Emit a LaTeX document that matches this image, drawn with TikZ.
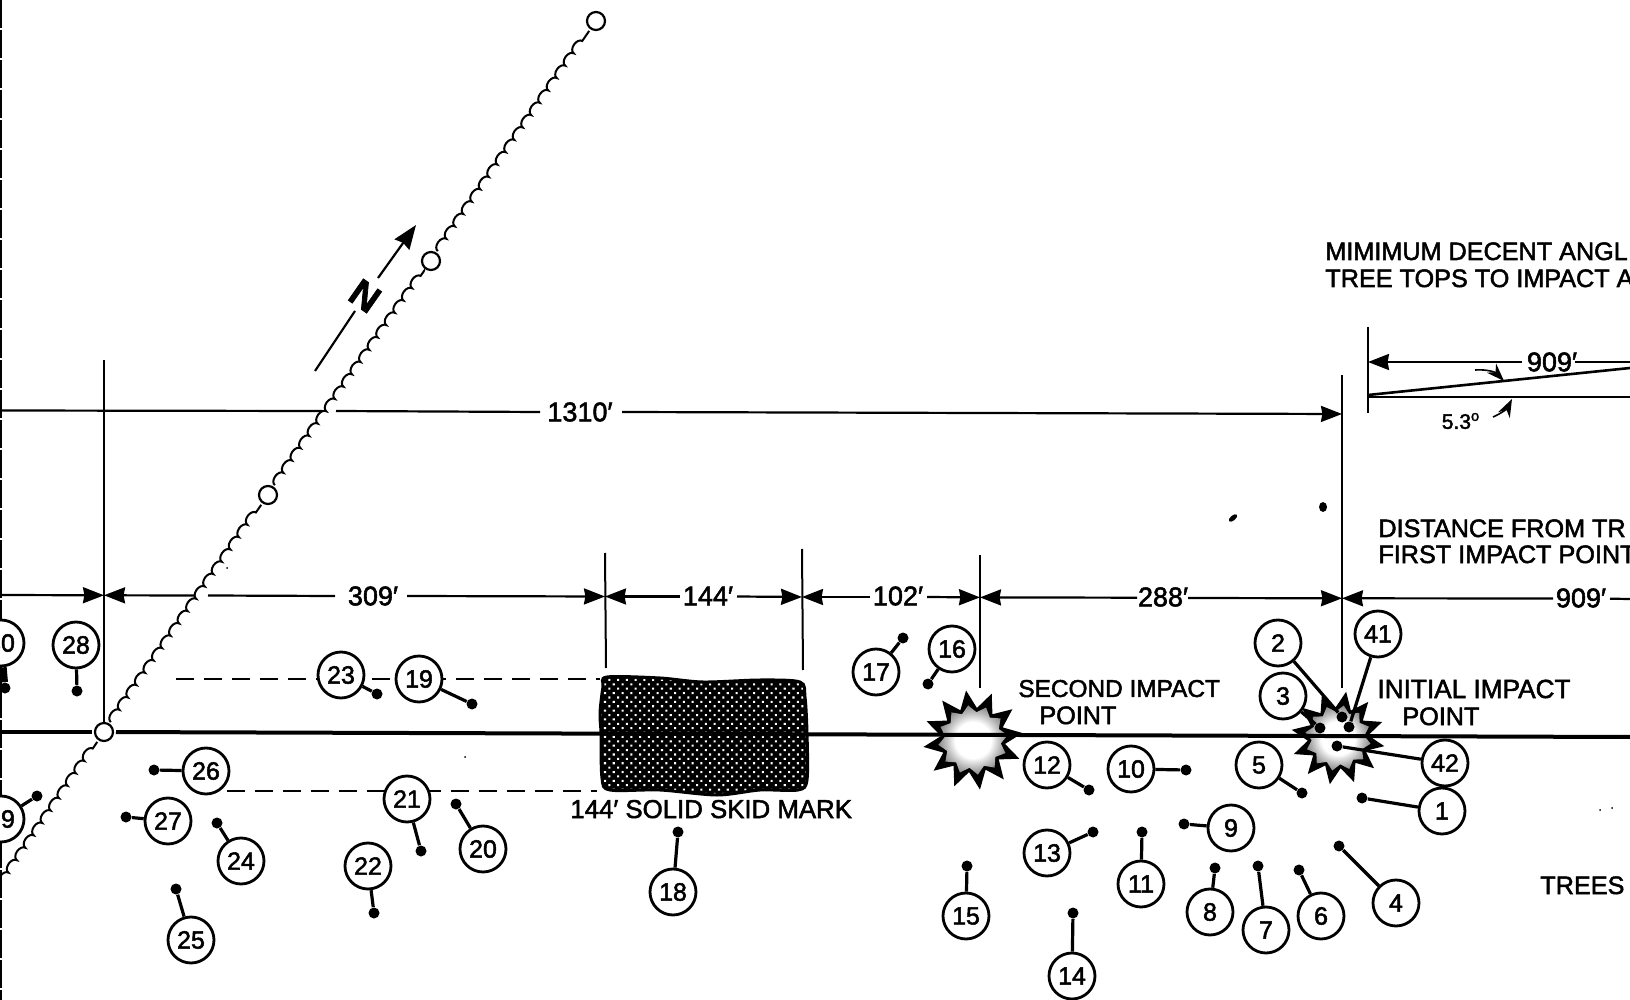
\documentclass[tikz,border=0pt]{standalone}
\usepackage{fontspec}
\setmainfont[FakeBold=2]{Liberation Sans}
\usetikzlibrary{arrows.meta,decorations.pathmorphing,patterns.meta,shapes.geometric}
\pgfdeclareradialshading{burstshade}{\pgfpoint{0bp}{0bp}}{color(0bp)=(white); color(13bp)=(white); color(20bp)=(gray!55); color(25bp)=(gray!90); color(50bp)=(gray!90)}
\tikzset{
  numtag/.style={shape=circle,draw,fill=white,line width=1.4pt,minimum size=23pt,inner sep=0pt,font=\fontsize{12.5}{14}\selectfont},
  numdot/.style={shape=circle,fill=black,inner sep=0pt,minimum size=5.5pt},
  leader/.style={line width=1.6pt},
  dimline/.style={line width=1.1pt},
  dimtip/.style={-{Stealth[length=10.5pt,width=8pt,inset=0.7pt]}},
  extline/.style={line width=1pt},
  dashline/.style={line width=1.2pt,dash pattern=on 9pt off 5pt},
  wavy/.style={line width=1pt,decorate,decoration={bumps,segment length=15pt,amplitude=2.4pt}},
  station/.style={shape=circle,draw,fill=white,line width=1.1pt,minimum size=9pt,inner sep=0pt,outer sep=1.5pt},
  caption/.style={anchor=base west,inner sep=0pt,font=\fontsize{12.6}{15}\selectfont},
  dimtext/.style={inner sep=0pt,font=\fontsize{13.5}{15}\selectfont},
  burstout/.style={shape=star,star points=12,star point ratio=1.55,fill=black,inner sep=0pt},
  burstin/.style={shape=star,star points=12,star point ratio=1.25,shading=burstshade,inner sep=0pt},
  skid/.style={draw=black,line width=1.5pt,preaction={fill=black},
    pattern={Dots[distance=3.1pt,radius=0.72pt,angle=45]},pattern color=white},
}
\begin{document}
\begin{tikzpicture}[x=0.5pt,y=-0.5pt]
      \useasboundingbox (0,0) rectangle (1630,1000) ;
      \draw[line width=0.6pt,dash pattern=on 14pt off 1pt] (1,0)--(1,1000) ;
      % survey line with its stations
      \node[station] (S1) at (104,732) {} ;
      \node[station] (S2) at (268,495) {} ;
      \node[station] (S3) at (431,261) {} ;
      \node[station] (S4) at (596,21) {} ;
      \coordinate (S0) at (0,885) ;
      \draw[wavy] (S0)--(S1) ;
      \draw[wavy] (S1)--(S2) ;
      \draw[wavy] (S2)--(S3) ;
      \draw[wavy] (S3)--(S4) ;
      % north arrow
      \coordinate (Na) at (315,371) ;
      \coordinate (Nb) at (355,311) ;
      \coordinate (Nc) at (378,278) ;
      \coordinate (Nd) at (416,225) ;
      \draw[line width=1.1pt] (Na)--(Nb) ;
      \draw[line width=1.1pt,-{Stealth[length=12pt,width=9pt,inset=1pt]}] (Nc)--(Nd) ;
      \node[rotate=-35,inner sep=0pt,font=\fontsize{19}{19}\selectfont\bfseries] (Nlabel) at (365,296) {N} ;
      % extension lines
      \coordinate (E1a) at (104,360) ;  \coordinate (E1b) at (104,724) ;
      \coordinate (E2a) at (605,553) ;  \coordinate (E2b) at (606,668) ;
      \coordinate (E3a) at (802,549) ;  \coordinate (E3b) at (803,670) ;
      \coordinate (E4a) at (980,555) ;  \coordinate (E4b) at (980,688) ;
      \coordinate (E5a) at (1342,375) ; \coordinate (E5b) at (1342,688) ;
      \draw[extline] (E1a)--(E1b) ;
      \draw[extline] (E2a)--(E2b) ;
      \draw[extline] (E3a)--(E3b) ;
      \draw[extline] (E4a)--(E4b) ;
      \draw[extline] (E5a)--(E5b) ;
      % long dimension
      \coordinate (L0) at (0,410.5) ;
      \coordinate (L1) at (322,411) ;
      \coordinate (L2) at (336,411) ;
      \coordinate (L3) at (540,412) ;
      \coordinate (L4) at (622,412) ;
      \coordinate (L5) at (1342,414) ;
      \node[dimtext] (Ltext) at (580,412) {1310′} ;
      \draw[dimline] (L0)--(L1) ;
      \draw[dimline] (L2)--(L3) ;
      \draw[dimline,dimtip] (L4)--(L5) ;
      % dimension row
      \coordinate (R0) at (0,595) ;
      \coordinate (R1) at (104,595.3) ;
      \coordinate (R1a) at (195,595.5) ;
      \coordinate (R1b) at (208,595.5) ;
      \coordinate (R1c) at (335,596) ;
      \coordinate (R1d) at (407,596) ;
      \coordinate (R2) at (605,596.5) ;
      \coordinate (R2a) at (680,596.5) ;
      \coordinate (R2b) at (737,596.5) ;
      \coordinate (R3) at (802,597) ;
      \coordinate (R3a) at (870,597) ;
      \coordinate (R3b) at (927,597) ;
      \coordinate (R4) at (980,597.4) ;
      \coordinate (R4a) at (1137,597.7) ;
      \coordinate (R4b) at (1188,598) ;
      \coordinate (R5) at (1342,598.3) ;
      \coordinate (R5a) at (1553,598.5) ;
      \coordinate (R5b) at (1610,598.7) ;
      \coordinate (R6) at (1630,599) ;
      \node[dimtext] (D309) at (373,596) {309′} ;
      \node[dimtext] (D144) at (708,596) {144′} ;
      \node[dimtext] (D102) at (898,596) {102′} ;
      \node[dimtext] (D288) at (1163,597) {288′} ;
      \node[dimtext] (D909) at (1581,598) {909′} ;
      \draw[dimline,dimtip] (R0)--(R1) ;
      \draw[dimline,dimtip] (R1a)--(R1) ;
      \draw[dimline] (R1b)--(R1c) ;
      \draw[dimline,dimtip] (R1d)--(R2) ;
      \draw[dimline,dimtip] (R2a)--(R2) ;
      \draw[dimline,dimtip] (R2b)--(R3) ;
      \draw[dimline,dimtip] (R3a)--(R3) ;
      \draw[dimline,dimtip] (R3b)--(R4) ;
      \draw[dimline,dimtip] (R4a)--(R4) ;
      \draw[dimline,dimtip] (R4b)--(R5) ;
      \draw[dimline,dimtip] (R5a)--(R5) ;
      \draw[dimline] (R5b)--(R6) ;
      % descent angle sketch
      \coordinate (Aa) at (1368,327) ;
      \coordinate (Ab) at (1368,413) ;
      \coordinate (Ac) at (1368,362) ;
      \coordinate (Ad) at (1522,362) ;
      \coordinate (Ae) at (1575,362) ;
      \coordinate (Af) at (1630,362) ;
      \coordinate (Ag) at (1368,395) ;
      \coordinate (Ah) at (1630,368) ;
      \coordinate (Ai) at (1368,397) ;
      \coordinate (Aj) at (1630,397) ;
      \draw[line width=1.2pt] (Aa)--(Ab) ;
      \draw[dimline,dimtip] (Ad)--(Ac) ;
      \draw[dimline] (Ae)--(Af) ;
      \draw[line width=1.3pt] (Ag)--(Ah) ;
      \draw[line width=1.3pt] (Ai)--(Aj) ;
      \node[dimtext] (Atext) at (1552,362) {909′} ;
      \coordinate (Ca) at (1475,370) ;
      \coordinate (Cb) at (1504,381) ;
      \coordinate (Cc) at (1493,417) ;
      \coordinate (Cd) at (1512,399) ;
      \draw[line width=0.8pt,-{Stealth[length=9pt,width=6.5pt]}] (Ca) to[bend left=25] (Cb) ;
      \draw[line width=0.8pt,-{Stealth[length=9pt,width=6.5pt]}] (Cc) to[bend right=20] (Cd) ;
      \node[inner sep=0pt,font=\fontsize{10.5}{12}\selectfont] (Atext2) at (1461,421) {5.3\textsuperscript{o}} ;
      % captions
      \node[caption] (C1) at (1325,260) {MIMIMUM DECENT ANGL} ;
      \node[caption] (C2) at (1325,287) {TREE TOPS TO IMPACT A} ;
      \node[caption] (C3) at (1378,537) {DISTANCE FROM TR} ;
      \node[caption] (C4) at (1378,563) {FIRST IMPACT POINT} ;
      \node[caption] (C5) at (1540,894) {TREES T} ;
      \node[caption,font=\fontsize{12.2}{15}\selectfont] (C6) at (1018,697) {SECOND IMPACT} ;
      \node[caption] (C7) at (1039,724) {POINT} ;
      \node[caption,font=\fontsize{13.1}{15}\selectfont] (C8) at (1377,698) {INITIAL IMPACT} ;
      \node[caption] (C9) at (1402,725) {POINT} ;
      \node[caption,font=\fontsize{12.9}{15}\selectfont] (C10) at (570,818) {144′ SOLID SKID MARK} ;
      % skid mark, bursts, centre line
      \draw[dashline] (176,679)--(600,679) ;
      \draw[dashline] (227,791)--(597,791) ;
      \path[skid] plot[smooth cycle] coordinates {(607,677) (660,678) (703,682) (760,680) (800,682) (805,697)
        (807,733) (807,780) (798,790) (760,790) (717,795) (660,790) (610,790) (602,778) (601,733) (600,713) (603,687)} ;
      \node[burstout,minimum size=50pt,rotate=8] (B2) at (973,740) {} ;
      \node[burstin,minimum size=35pt,rotate=8] (B2i) at (973,740) {} ;
      \node[burstout,minimum size=47pt,rotate=20] (B1) at (1338,738) {} ;
      \node[burstin,minimum size=33pt,rotate=20] (B1i) at (1338,738) {} ;
      \coordinate (M0) at (0,732) ;
      \coordinate (M1) at (1630,737) ;
      \draw[line width=2pt] (M0)--(S1) ;
      \draw[line width=2pt] (S1)--(M1) ;
      % numbered wreckage tags
      \node[numdot] (P1) at (1362,798) {} ;  \node[numtag] (N1) at (1442,811) {1} ;
      \node[numdot] (P2) at (1342,717) {} ;  \node[numtag] (N2) at (1278,643) {2} ;
      \node[numdot] (P3) at (1320,728) {} ;  \node[numtag] (N3) at (1283,696) {3} ;
      \node[numdot] (P4) at (1339,846) {} ;  \node[numtag] (N4) at (1396,903) {4} ;
      \node[numdot] (P5) at (1302,793) {} ;  \node[numtag] (N5) at (1259,765) {5} ;
      \node[numdot] (P6) at (1299,870) {} ;  \node[numtag] (N6) at (1321,916) {6} ;
      \node[numdot] (P7) at (1258,866) {} ;  \node[numtag] (N7) at (1266,930) {7} ;
      \node[numdot] (P8) at (1215,868) {} ;  \node[numtag] (N8) at (1210,912) {8} ;
      \node[numdot] (P9) at (1184,824) {} ;  \node[numtag] (N9) at (1231,828) {9} ;
      \node[numdot] (P10) at (1186,770) {} ; \node[numtag] (N10) at (1131,769) {10} ;
      \node[numdot] (P11) at (1142,832) {} ; \node[numtag] (N11) at (1141,884) {11} ;
      \node[numdot] (P12) at (1089,790) {} ; \node[numtag] (N12) at (1047,765) {12} ;
      \node[numdot] (P13) at (1093,832) {} ; \node[numtag] (N13) at (1047,853) {13} ;
      \node[numdot] (P14) at (1073,913) {} ; \node[numtag] (N14) at (1072,976) {14} ;
      \node[numdot] (P15) at (967,866) {} ;  \node[numtag] (N15) at (966,916) {15} ;
      \node[numdot] (P16) at (928,684) {} ;  \node[numtag] (N16) at (952,649) {16} ;
      \node[numdot] (P17) at (903,638) {} ;  \node[numtag] (N17) at (876,672) {17} ;
      \node[numdot] (P18) at (678,832) {} ;  \node[numtag] (N18) at (673,892) {18} ;
      \node[numdot] (P19) at (472,704) {} ;  \node[numtag] (N19) at (419,679) {19} ;
      \node[numdot] (P20) at (456,804) {} ;  \node[numtag] (N20) at (483,849) {20} ;
      \node[numdot] (P21) at (421,851) {} ;  \node[numtag] (N21) at (407,799) {21} ;
      \node[numdot] (P22) at (374,913) {} ;  \node[numtag] (N22) at (368,866) {22} ;
      \node[numdot] (P23) at (377,694) {} ;  \node[numtag] (N23) at (341,675) {23} ;
      \node[numdot] (P24) at (217,823) {} ;  \node[numtag] (N24) at (241,861) {24} ;
      \node[numdot] (P25) at (176,889) {} ;  \node[numtag] (N25) at (191,940) {25} ;
      \node[numdot] (P26) at (154,770) {} ;  \node[numtag] (N26) at (206,771) {26} ;
      \node[numdot] (P27) at (126,817) {} ;  \node[numtag] (N27) at (168,821) {27} ;
      \node[numdot] (P28) at (77,691) {} ;   \node[numtag] (N28) at (76,645) {28} ;
      \node[numdot] (P29) at (37,796) {} ;   \node[numtag] (N29) at (1,819) {29} ;
      \node[numdot] (P30) at (5,688) {} ;    \node[numtag] (N30) at (1,643) {30} ;
      \node[numdot] (P41) at (1349,727) {} ; \node[numtag] (N41) at (1378,634) {41} ;
      \node[numdot] (P42) at (1337,746) {} ; \node[numtag] (N42) at (1445,763) {42} ;
      \draw[leader] (N1)--(P1) ;
      \draw[leader] (N2)--(P2) ;
      \draw[leader] (N3)--(P3) ;
      \draw[leader] (N4)--(P4) ;
      \draw[leader] (N5)--(P5) ;
      \draw[leader] (N6)--(P6) ;
      \draw[leader] (N7)--(P7) ;
      \draw[leader] (N8)--(P8) ;
      \draw[leader] (N9)--(P9) ;
      \draw[leader] (N10)--(P10) ;
      \draw[leader] (N11)--(P11) ;
      \draw[leader] (N12)--(P12) ;
      \draw[leader] (N13)--(P13) ;
      \draw[leader] (N14)--(P14) ;
      \draw[leader] (N15)--(P15) ;
      \draw[leader] (N16)--(P16) ;
      \draw[leader] (N17)--(P17) ;
      \draw[leader] (N18)--(P18) ;
      \draw[leader] (N19)--(P19) ;
      \draw[leader] (N20)--(P20) ;
      \draw[leader] (N21)--(P21) ;
      \draw[leader] (N22)--(P22) ;
      \draw[leader] (N23)--(P23) ;
      \draw[leader] (N24)--(P24) ;
      \draw[leader] (N25)--(P25) ;
      \draw[leader] (N26)--(P26) ;
      \draw[leader] (N27)--(P27) ;
      \draw[leader] (N28)--(P28) ;
      \draw[leader] (N29)--(P29) ;
      \draw[line width=3.5pt] (N30)--(P30) ;
      \draw[leader] (N41)--(P41) ;
      \draw[leader] (N42)--(P42) ;
      % specks of the print
      \fill[rotate around={40:(1233,518)}] (1233,518) ellipse (5 and 2.5) ;
      \fill (1323,507) ellipse (4 and 5) ;
      \fill (465,757) circle (1) ;
      \fill (1612,808) circle (1) ;
      \fill (1600,810) circle (1) ;
      \fill (227,568) circle (1) ;
    \end{tikzpicture}
\end{document}
